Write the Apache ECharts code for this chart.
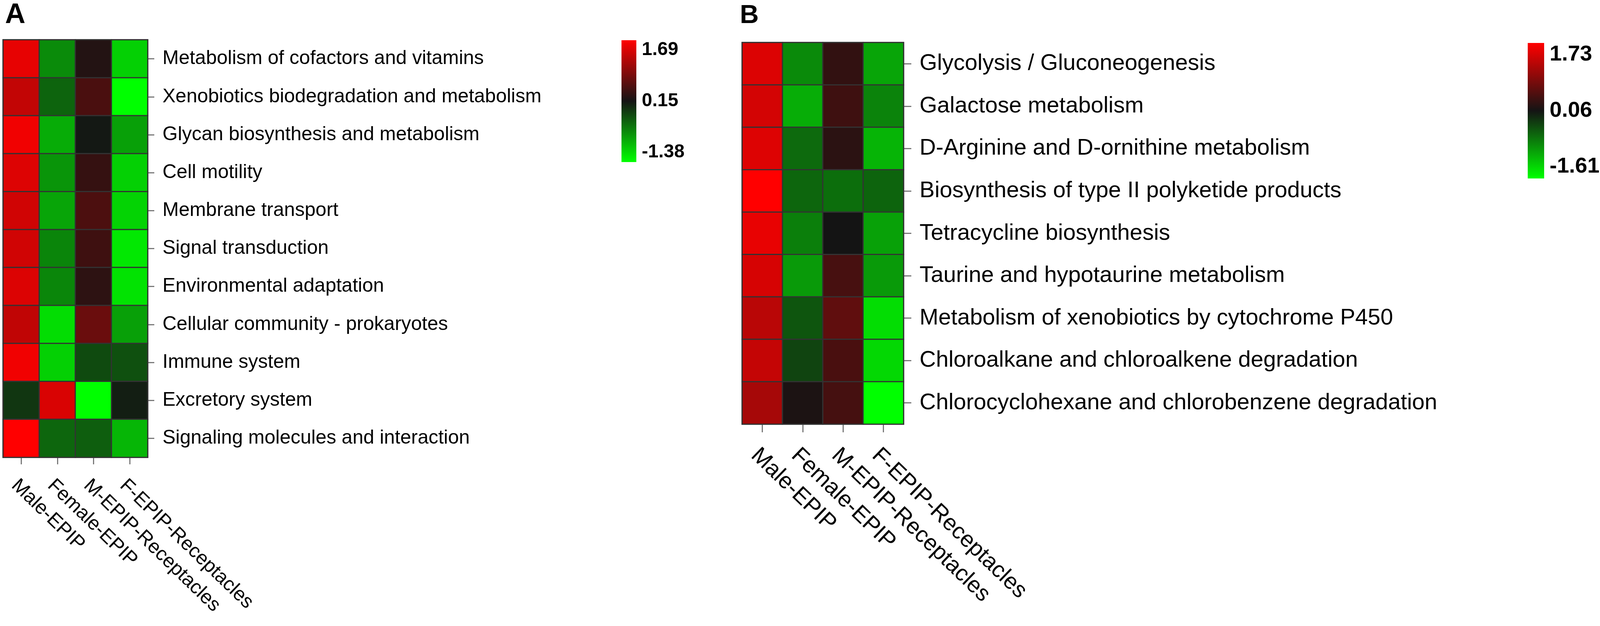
<!DOCTYPE html>
<html>
<head>
<meta charset="utf-8">
<script src="https://cdn.jsdelivr.net/npm/echarts@6/dist/echarts.min.js"></script>
<style>
  html, body { margin: 0; padding: 0; width: 100%; height: 100%; background: #fff; overflow: hidden; }
  #main { width: 100vw; height: 100vh; }
</style>
</head>
<body>
<div id="main"></div>
<script>
// columns (same for both panels)
var groups = ['Male-EPIP', 'Female-EPIP', 'M-EPIP-Receptacles', 'F-EPIP-Receptacles'];

// panel A rows, top to bottom
var pathwaysA = [
  'Metabolism of cofactors and vitamins',
  'Xenobiotics biodegradation and metabolism',
  'Glycan biosynthesis and metabolism',
  'Cell motility',
  'Membrane transport',
  'Signal transduction',
  'Environmental adaptation',
  'Cellular community - prokaryotes',
  'Immune system',
  'Excretory system',
  'Signaling molecules and interaction'
];
// one array per column
var maleA     = [1.53, 1.29, 1.60, 1.47, 1.38, 1.38, 1.46, 1.28, 1.60, -0.07, 1.69];
var femaleA   = [-0.62, -0.37, -0.84, -0.69, -0.79, -0.58, -0.59, -1.16, -1.07, 1.44, -0.38];
var mRecA     = [0.25, 0.51, 0.13, 0.37, 0.52, 0.43, 0.32, 0.72, -0.20, -1.38, -0.33];
var fRecA     = [-1.07, -1.38, -0.76, -1.07, -1.09, -1.23, -1.20, -0.76, -0.24, 0.09, -0.90];
var scaleA    = [-1.38, 1.69];
var ticksA    = ['-1.38', '0.15', '1.69'];

// panel B rows, top to bottom
var pathwaysB = [
  'Glycolysis / Gluconeogenesis',
  'Galactose metabolism',
  'D-Arginine and D-ornithine metabolism',
  'Biosynthesis of type II polyketide products',
  'Tetracycline biosynthesis',
  'Taurine and hypotaurine metabolism',
  'Metabolism of xenobiotics by cytochrome P450',
  'Chloroalkane and chloroalkene degradation',
  'Chlorocyclohexane and chlorobenzene degradation'
];
var maleB     = [1.48, 1.42, 1.49, 1.73, 1.57, 1.44, 1.23, 1.31, 1.10];
var femaleB   = [-0.78, -1.03, -0.55, -0.52, -0.70, -0.89, -0.40, -0.28, 0.12];
var mRecB     = [0.27, 0.36, 0.22, -0.58, 0.06, 0.42, 0.60, 0.44, 0.41];
var fRecB     = [-0.97, -0.73, -1.08, -0.51, -0.94, -0.89, -1.37, -1.33, -1.61];
var scaleB    = [-1.61, 1.73];
var ticksB    = ['-1.61', '0.06', '1.73'];

var FONT = 'Liberation Sans, Arial, sans-serif';
var colGreen = '#00ff00', colMid = '#141414', colRed = '#ff0000';

var chart = echarts.init(document.getElementById('main'));
// layout is laid out for 4328x1603, scaled to whatever the window really is
var sx = chart.getWidth() / 4328, sy = chart.getHeight() / 1603;
var sf = Math.min(sx, sy);
function X(v) { return Math.round(v * sx); }
function Y(v) { return Math.round(v * sy); }
function F(v) { return Math.round(v * sf); }

function cells(cols) {
  var out = [];
  cols.forEach(function (col, x) {
    col.forEach(function (v, y) { out.push([x, y, v]); });
  });
  return out;
}

// colour bar drawn on its own little value axis
function colorBar(params, api) {
  var x = api.value(0);
  var top = api.coord([x, api.value(2)]);
  var bot = api.coord([x, api.value(1)]);
  var w = api.size([1, 0])[0];
  return {
    type: 'rect',
    shape: { x: top[0] - w / 2, y: top[1], width: w, height: bot[1] - top[1] },
    style: {
      fill: {
        type: 'linear', x: 0, y: 0, x2: 0, y2: 1,
        colorStops: [
          { offset: 0, color: colRed },
          { offset: 0.5, color: colMid },
          { offset: 1, color: colGreen }
        ]
      }
    }
  };
}

function barLabels(scale, ticks) {
  return function (v) {
    if (v === scale[1]) return '{t|' + ticks[2] + '}';
    if (v === scale[0]) return '{b|' + ticks[0] + '}';
    return '{m|' + ticks[1] + '}';
  };
}

function barRich(size, shift) {
  var base = { fontSize: F(size), fontWeight: 'bold', fontFamily: FONT, color: '#000' };
  return {
    t: Object.assign({ padding: [Y(shift), 0, 0, 0] }, base),
    m: Object.assign({}, base),
    b: Object.assign({ padding: [0, 0, Y(shift), 0] }, base)
  };
}

var tickStyle = { color: '#7a7a7a', width: 3 };

chart.setOption({
  backgroundColor: '#fff',
  animation: false,
  title: [
    { text: 'A', left: X(8), top: Y(-2), textStyle: { fontSize: F(76), fontWeight: 'bold', fontFamily: FONT, color: '#000' } },
    { text: 'B', left: X(1996), top: Y(2), textStyle: { fontSize: F(71), fontWeight: 'bold', fontFamily: FONT, color: '#000' } }
  ],
  grid: [
    { left: X(8), top: Y(102), width: X(391), height: Y(1069), show: true, borderColor: '#333', borderWidth: 3, outerBoundsMode: 'none' },
    { left: X(1681), top: Y(103), width: X(40), height: Y(312), outerBoundsMode: 'none' },
    { left: X(2008), top: Y(109), width: X(436), height: Y(977), show: true, borderColor: '#333', borderWidth: 3, outerBoundsMode: 'none' },
    { left: X(4132), top: Y(110), width: X(44), height: Y(347), outerBoundsMode: 'none' }
  ],
  xAxis: [
    {
      gridIndex: 0, type: 'category', data: groups, position: 'bottom',
      axisLine: { show: false },
      axisTick: { show: true, alignWithLabel: true, length: Y(18), lineStyle: tickStyle },
      axisLabel: { interval: 0, rotate: -44, align: 'left', verticalAlign: 'top', margin: Y(47),
                   fontSize: F(53), fontFamily: FONT, color: '#000' }
    },
    { gridIndex: 1, type: 'category', data: [''], show: false },
    {
      gridIndex: 2, type: 'category', data: groups, position: 'bottom',
      axisLine: { show: false },
      axisTick: { show: true, alignWithLabel: true, length: Y(21), lineStyle: tickStyle },
      axisLabel: { interval: 0, rotate: -44, align: 'left', verticalAlign: 'top', margin: Y(51),
                   fontSize: F(61), fontFamily: FONT, color: '#000' }
    },
    { gridIndex: 3, type: 'category', data: [''], show: false }
  ],
  yAxis: [
    {
      gridIndex: 0, type: 'category', data: pathwaysA, inverse: true, position: 'right',
      axisLine: { show: false },
      axisTick: { show: true, alignWithLabel: true, length: X(18), lineStyle: tickStyle },
      axisLabel: { interval: 0, margin: X(40), fontSize: F(53), fontFamily: FONT, color: '#000' }
    },
    {
      gridIndex: 1, type: 'value', min: scaleA[0], max: scaleA[1], position: 'right',
      axisLine: { show: false }, axisTick: { show: false }, splitLine: { show: false },
      axisLabel: {
        margin: X(15),
        customValues: [scaleA[0], (scaleA[0] + scaleA[1]) / 2, scaleA[1]],
        formatter: barLabels(scaleA, ticksA),
        rich: barRich(51, 50)
      }
    },
    {
      gridIndex: 2, type: 'category', data: pathwaysB, inverse: true, position: 'right',
      axisLine: { show: false },
      axisTick: { show: true, alignWithLabel: true, length: X(21), lineStyle: tickStyle },
      axisLabel: { interval: 0, margin: X(43), fontSize: F(61), fontFamily: FONT, color: '#000' }
    },
    {
      gridIndex: 3, type: 'value', min: scaleB[0], max: scaleB[1], position: 'right',
      axisLine: { show: false }, axisTick: { show: false }, splitLine: { show: false },
      axisLabel: {
        margin: X(15),
        customValues: [scaleB[0], (scaleB[0] + scaleB[1]) / 2, scaleB[1]],
        formatter: barLabels(scaleB, ticksB),
        rich: barRich(59, 60)
      }
    }
  ],
  visualMap: [
    { type: 'continuous', show: false, seriesIndex: 0, dimension: 2, min: scaleA[0], max: scaleA[1],
      inRange: { color: [colGreen, colMid, colRed] } },
    { type: 'continuous', show: false, seriesIndex: 2, dimension: 2, min: scaleB[0], max: scaleB[1],
      inRange: { color: [colGreen, colMid, colRed] } }
  ],
  series: [
    {
      type: 'heatmap', xAxisIndex: 0, yAxisIndex: 0,
      data: cells([maleA, femaleA, mRecA, fRecA]),
      itemStyle: { borderColor: '#333', borderWidth: 3 },
      emphasis: { disabled: true }
    },
    {
      type: 'custom', xAxisIndex: 1, yAxisIndex: 1,
      data: [[0, scaleA[0], scaleA[1]]],
      renderItem: colorBar, silent: true
    },
    {
      type: 'heatmap', xAxisIndex: 2, yAxisIndex: 2,
      data: cells([maleB, femaleB, mRecB, fRecB]),
      itemStyle: { borderColor: '#333', borderWidth: 3 },
      emphasis: { disabled: true }
    },
    {
      type: 'custom', xAxisIndex: 3, yAxisIndex: 3,
      data: [[0, scaleB[0], scaleB[1]]],
      renderItem: colorBar, silent: true
    }
  ]
});
</script>
</body>
</html>
